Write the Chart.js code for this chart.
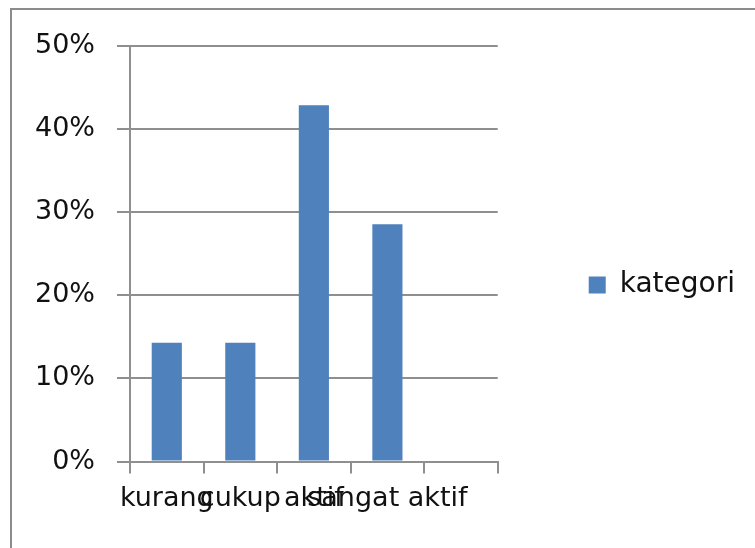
<!DOCTYPE html>
<html>
<head>
<meta charset="utf-8">
<script src="https://cdn.jsdelivr.net/npm/chart.js@4"></script>
<style>
  html, body { margin: 0; padding: 0; background: #fff; overflow: hidden; }
  #frame { position: absolute; left: 10px; top: 8px; width: 800px; height: 600px; border: 2px solid #8c8c8c; box-sizing: border-box; }
  #c { position: absolute; left: 0; top: 0; }
</style>
</head>
<body>
<div id="frame"></div>
<canvas id="c" width="755" height="548"></canvas>
<script>
const categories = ["kurang", "cukup", "aktif", "sangat aktif", ""];
const seriesName = "kategori";
const seriesValues = [14.29, 14.29, 42.86, 28.57, null];
const yTicks = [0, 10, 20, 30, 40, 50];

const FONT = "'DejaVu Sans', sans-serif";
const GRID = '#8f8f8f';
const TEXT = '#111';

// let the right-hand legend take the width it needs (Chart.js caps side boxes)
const wideLegend = {
  id: 'wideLegend',
  beforeLayout(chart) {
    const lg = chart.legend;
    if (lg && !lg._wide) {
      const orig = lg.fit.bind(lg);
      lg.fit = function () { this.maxWidth = 1000; orig(); };
      lg._wide = true;
    }
  }
};

new Chart(document.getElementById('c'), {
  type: 'bar',
  data: {
    labels: categories,
    datasets: [{
      label: seriesName,
      data: seriesValues,
      backgroundColor: '#4f81bd',
      borderWidth: 0,
      categoryPercentage: 1,
      barPercentage: 0.41
    }]
  },
  plugins: [wideLegend],
  options: {
    responsive: false,
    animation: false,
    layout: { padding: { left: 13, right: 10, top: 46, bottom: 24 } },
    plugins: {
      tooltip: { enabled: false },
      legend: {
        position: 'right',
        labels: {
          font: { family: FONT, size: 28 },
          color: TEXT,
          boxWidth: 17,
          boxHeight: 17,
          padding: 91
        }
      }
    },
    scales: {
      x: {
        offset: true,
        grid: { offset: true, drawOnChartArea: false, drawTicks: true, tickLength: 12, color: GRID, lineWidth: 2 },
        border: { display: true, color: GRID, width: 2 },
        ticks: {
          autoSkip: false, maxRotation: 0, minRotation: 0, padding: 9,
          font: { family: FONT, size: 27 }, color: TEXT
        }
      },
      y: {
        min: 0, max: 50,
        afterBuildTicks: (axis) => { axis.ticks = yTicks.map(v => ({ value: v })); },
        grid: { drawOnChartArea: true, drawTicks: true, tickLength: 13, color: GRID, lineWidth: 2 },
        border: { display: true, color: GRID, width: 2 },
        ticks: {
          padding: 22,
          font: { family: FONT, size: 27 }, color: TEXT,
          callback: (v) => v + '%'
        }
      }
    }
  }
});
</script>
</body>
</html>
